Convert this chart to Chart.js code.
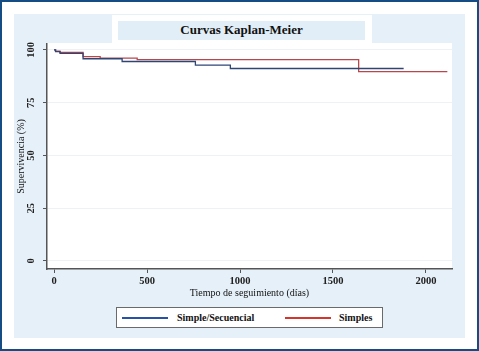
<!DOCTYPE html>
<html>
<head>
<meta charset="utf-8">
<script src="https://cdn.jsdelivr.net/npm/chart.js@4.4.0/dist/chart.umd.min.js"></script>
<style>
    body { margin: 0; background: #fff; }
    #frame { position: absolute; left: 0; top: 0; width: 479px; height: 351px; box-sizing: border-box; border: 2px solid #154c84; background: #fff; }
    #panel { position: absolute; left: 14px; top: 14px; width: 451px; height: 324px; background: #e6f0f8; }
    #title-wrap { position: absolute; left: 112px; top: 15px; width: 260px; height: 30px; background: #fff; }
    #title { position: absolute; left: 118px; top: 21px; width: 247px; height: 19px; background: #e2eef7;
             font: bold 13px "Liberation Serif", serif; color: #111; text-align: center; line-height: 18px; }
    #km-chart { position: absolute; left: 0; top: 0; }
    #legend { position: absolute; left: 116px; top: 307px; width: 267px; height: 21px; box-sizing: border-box;
              border: 1px solid #6a6a6a; background: #fff; font: bold 10px "Liberation Serif", serif; color: #111; }
    #legend .swatch { position: absolute; top: 9px; width: 46px; height: 2px; }
    #legend .label { position: absolute; top: 3px; line-height: 13px; }
</style>
</head>
<body>
<div id="frame"></div>
<div id="panel"></div>
<div id="title-wrap"></div>
<div id="title">Curvas Kaplan-Meier</div>
<canvas id="km-chart" width="479" height="351"></canvas>
<div id="legend">
    <span class="swatch" style="left:5px;background:#2852a6"></span>
    <span class="label" style="left:60px">Simple/Secuencial</span>
    <span class="swatch" style="left:168px;background:#d6352d"></span>
    <span class="label" style="left:222px">Simples</span>
</div>
<script>
// Survival steps (days, %)
const seqTimes = [0, 8, 32, 156, 366, 760, 948, 1880];
const seqSurvival = [100, 99.2, 98.4, 95.8, 94.5, 92.8, 91.2, 91.2];
const simpleTimes = [0, 8, 32, 156, 248, 447, 1638, 2115];
const simpleSurvival = [100, 99.4, 98.8, 96.8, 96.1, 95.4, 89.7, 89.7];

const xTicks = [0, 500, 1000, 1500, 2000];
const yTicks = [0, 25, 50, 75, 100];
const seriesNames = ['Simple/Secuencial', 'Simples'];

function toPoints(times, values) {
    return times.map((t, i) => ({ x: t, y: values[i] }));
}

// white plot region like Stata's plotregion
const plotBackground = {
    id: 'plotBackground',
    beforeDraw(chart) {
        const { ctx, chartArea } = chart;
        ctx.save();
        ctx.fillStyle = '#fff';
        ctx.fillRect(chartArea.left, chartArea.top - 1, chartArea.right - chartArea.left, chartArea.bottom - chartArea.top + 1);
        ctx.restore();
    }
};

const tickFont = { family: 'Liberation Serif', size: 10.5, weight: 'bold' };
const titleFont = { family: 'Liberation Serif', size: 10 };

new Chart(document.getElementById('km-chart'), {
    type: 'line',
    data: {
        datasets: [{
            label: seriesNames[0],
            data: toPoints(seqTimes, seqSurvival),
            borderColor: '#2f4675',
            borderWidth: 1.3,
            stepped: 'before',
            pointRadius: 0,
            fill: false
        }, {
            label: seriesNames[1],
            data: toPoints(simpleTimes, simpleSurvival),
            borderColor: '#b8474c',
            borderWidth: 1.3,
            stepped: 'before',
            pointRadius: 0,
            fill: false
        }]
    },
    options: {
        responsive: false,
        animation: false,
        layout: { padding: { left: 14, top: 44, right: 27, bottom: 51 } },
        plugins: {
            legend: { display: false },
            title: { display: false },
            tooltip: { enabled: false }
        },
        scales: {
            x: {
                type: 'linear',
                min: -38,
                max: 2140,
                afterBuildTicks: scale => { scale.ticks = xTicks.map(v => ({ value: v })); },
                afterFit: scale => { scale.height = 31; },
                ticks: { font: tickFont, color: '#222', padding: 2, maxRotation: 0, callback: v => String(v) },
                grid: { drawOnChartArea: false, tickColor: '#555', tickLength: 4 },
                border: { color: '#555', width: 1.5 },
                title: { display: true, text: 'Tiempo de seguimiento (días)', font: titleFont, color: '#111', padding: { top: 0, bottom: 1 } }
            },
            y: {
                type: 'linear',
                min: -3.8,
                max: 102.8,
                afterBuildTicks: scale => { scale.ticks = yTicks.map(v => ({ value: v })); },
                afterFit: scale => { scale.width = 33; },
                ticks: { font: tickFont, color: '#222', padding: 4, minRotation: 90, maxRotation: 90, crossAlign: 'center', callback: v => String(v) },
                grid: { color: '#eef2f5', tickColor: '#555', tickLength: 4 },
                border: { color: '#555', width: 1.5 },
                title: { display: true, text: 'Supervivencia (%)', font: titleFont, color: '#111', padding: { top: 1, bottom: 0 } }
            }
        }
    },
    plugins: [plotBackground]
});
</script>
</body>
</html>
